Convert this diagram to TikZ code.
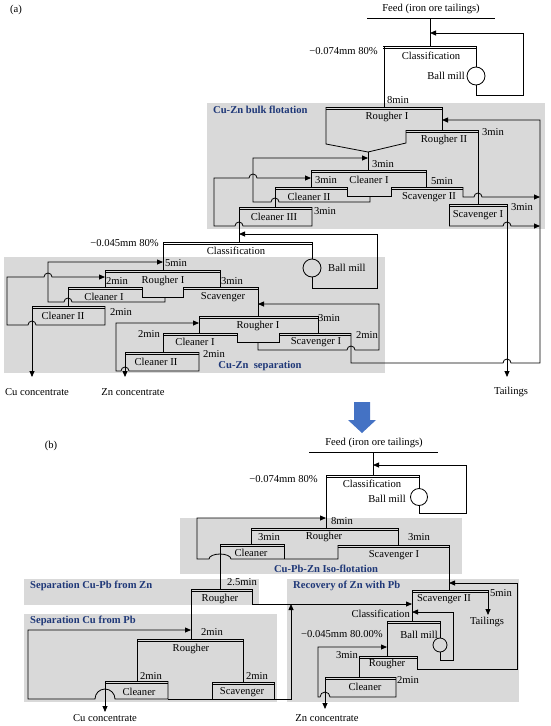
\documentclass[tikz,border=0pt]{standalone}
\usepackage{fontspec}
\setmainfont{Liberation Serif}
\usepackage{xcolor}
\usepackage{tikz}
\usetikzlibrary{arrows.meta}

\definecolor{panelgray}{RGB}{217,217,217}
\definecolor{titleblue}{RGB}{31,56,120}
\definecolor{bigblue}{RGB}{68,114,196}

\begin{document}
\begin{tikzpicture}[
    x=1pt, y=-1pt,
    lbl/.style={inner sep=0pt, font=\fontsize{10.6}{12}\selectfont},
    ttl/.style={inner sep=0pt, font=\fontsize{10.6}{12}\selectfont\bfseries, text=titleblue, anchor=west},
    grp/.style={fill=panelgray, draw=none},
    pipe/.style={line width=0.8pt},
    flow/.style={pipe, -{Triangle[length=6pt,width=5pt]}}
]
\useasboundingbox (0,0) rectangle (550,726);

% grey panels
\fill[grp] (207,103) rectangle (545,229);
\fill[grp] (4,257) rectangle (385,373);
\fill[grp] (180,518) rectangle (462,574);
\fill[grp] (24,579) rectangle (259,605);
\fill[grp] (287,579) rectangle (519,702);
\fill[grp] (24,614) rectangle (277,702);

% cell tops (double line)
\foreach \xa/\xb/\yy in {383/477/46, 326/442/107, 406/478/130, 311/426/170, 275/347/187,
    391/463/187, 239/312/207, 449/507/204, 163/312/242, 105/220/270, 68/142/287, 183/258/287,
    32/105/306, 199/318/316, 163/237/333, 279/351/333, 125/199/352,
    326/419/475, 251/398/528, 220/284/544, 338/449/545, 191/252/589, 412/488/590,
    387/440/621, 137/243/639, 359/417/656, 105/168/681, 212/274/682, 325/396/677}
{
    \draw[line width=1pt] (\xa,\yy) -- (\xb,\yy);
    \draw[line width=0.6pt] (\xa,\yy+2.6) -- (\xb,\yy+2.6);
}

% ---------- (a) ----------
\node[lbl] (tagA) at (16,10) {(a)};
\node[lbl] (feedA) at (431,9) {Feed (iron ore tailings)};
\node[lbl, anchor=east] (sizeA) at (378,51) {−0.074mm 80\%};
\node[lbl] (classA) at (431,56) {Classification};
\node[lbl, anchor=east] (millA) at (465,76) {Ball mill};
\node[lbl] (tA1) at (398,100) {8min};
\node[ttl] (bulk) at (213,110) {Cu-Zn bulk flotation};
\node[lbl] (rghA1) at (387,117) {Rougher I};
\node[lbl] (rghA2) at (444,140) {Rougher II};
\node[lbl] (tA2) at (493,132) {3min};
\node[lbl] (tA3) at (383,164) {3min};
\node[lbl] (tA4) at (326,180) {3min};
\node[lbl] (clnA1) at (369,180) {Cleaner I};
\node[lbl] (tA5) at (442,181) {5min};
\node[lbl] (clnA2) at (309,197) {Cleaner II};
\node[lbl] (scvA2) at (429,197) {Scavenger II};
\node[lbl] (tA6) at (325,211) {3min};
\node[lbl] (clnA3) at (274,217) {Cleaner III};
\node[lbl] (tA7) at (522,207) {3min};
\node[lbl] (scvA1) at (478,215) {Scavenger I};

\node[lbl, anchor=east] (sizeB) at (159,243) {−0.045mm 80\%};
\node[lbl] (classB) at (236,251) {Classification};
\node[lbl, anchor=west] (millB) at (328,268) {Ball mill};
\node[lbl] (tB1) at (176,263) {5min};
\node[lbl] (tB2) at (117,281) {2min};
\node[lbl] (rghB1) at (163,281) {Rougher I};
\node[lbl] (tB3) at (232,281) {3min};
\node[lbl] (clnB1) at (104,297) {Cleaner I};
\node[lbl] (scvB) at (223,297) {Scavenger};
\node[lbl] (tB4) at (121,312) {2min};
\node[lbl] (clnB2) at (63,316) {Cleaner II};
\node[lbl] (tB5) at (329,318) {3min};
\node[lbl] (rghB2) at (258,326) {Rougher I};
\node[lbl] (tB6) at (149,334) {2min};
\node[lbl] (clnB3) at (195,342) {Cleaner I};
\node[lbl] (scvB1) at (316,342) {Scavenger I};
\node[lbl] (tB7) at (367,335) {2min};
\node[lbl] (tB8) at (214,354) {2min};
\node[lbl] (clnB4) at (156,362) {Cleaner II};
\node[ttl, anchor=center] (sep) at (260,366) {Cu-Zn~~separation};
\node[lbl] (cuA) at (37,392) {Cu concentrate};
\node[lbl] (znA) at (133,392) {Zn concentrate};
\node[lbl] (tailA) at (511,392) {Tailings};

% grinding loop (a)
\draw[pipe] (367,18) -- (495,18);
\draw[pipe] (430,18) -- (430,46);
\draw[pipe] (476,76) circle[radius=9];
\draw[pipe] (476,46) -- (476,67);
\draw[flow] (476,85) -- (476,95) -- (523,95) -- (523,33) -- (430,33);
\draw[pipe] (384,46) -- (384,107);

% bulk flotation
\draw[pipe] (326,107) -- (326,144) -- (368,152) -- (406,143) -- (406,130);
\draw[pipe] (442,107) -- (442,130);
\draw[pipe] (478,130) -- (478,204);
\draw[pipe] (368,152) -- (368,170);
\draw[pipe] (311,170) -- (311,187);
\draw[pipe] (426,170) -- (426,187);
\draw[pipe] (275,187) -- (275,207);
\draw[pipe] (347,187) -- (347,196) -- (391,196) -- (391,187);
\draw[pipe] (239,207) -- (239,242);
\draw[pipe] (449,204) -- (449,226);
\draw[flow] (507,204) -- (507,377);
\draw[flow] (370,196) -- (370,202) -- (279,202) arc[start angle=0, end angle=-180, radius=4]
    -- (253,202) -- (253,158) -- (368,158);
\draw[flow] (312,207) -- (312,226) -- (243,226) arc[start angle=0, end angle=-180, radius=4]
    -- (214,226) -- (214,178) -- (249,178) arc[start angle=180, end angle=360, radius=4] -- (311,178);
\draw[flow] (463,187) -- (463,197) -- (474,197) arc[start angle=180, end angle=360, radius=4] -- (540,197);
\draw[flow] (449,226) -- (503,226) arc[start angle=180, end angle=360, radius=4] -- (540,226);

% grinding loop (separation)
\draw[pipe] (312,268) circle[radius=9];
\draw[pipe] (312,242) -- (312,259);
\draw[flow] (312,277) -- (312,288) -- (377,288) -- (377,234) -- (239,234);
\draw[pipe] (163,242) -- (163,270);

% Cu-Zn separation, first bank
\draw[pipe] (105,270) -- (105,287);
\draw[pipe] (220,270) -- (220,287);
\draw[pipe] (68,287) -- (68,306);
\draw[pipe] (142,287) -- (142,297) -- (183,297) -- (183,287);
\draw[pipe] (258,287) -- (258,316);
\draw[flow] (165,297) -- (165,302) -- (72,302) arc[start angle=0, end angle=-180, radius=4]
    -- (48,302) -- (48,262) -- (163,262);
\draw[flow] (105,306) -- (105,325) -- (36,325) arc[start angle=0, end angle=-180, radius=4]
    -- (7,325) -- (7,277) -- (44,277) arc[start angle=180, end angle=360, radius=4] -- (105,277);
\draw[flow] (32,306) -- (32,377);

% Cu-Zn separation, second bank
\draw[pipe] (199,316) -- (199,333);
\draw[pipe] (318,316) -- (318,333);
\draw[pipe] (163,333) -- (163,352);
\draw[pipe] (237,333) -- (237,342) -- (279,342) -- (279,333);
\draw[flow] (258,342) -- (258,350) -- (347,350) arc[start angle=180, end angle=360, radius=4]
    -- (379,350) -- (379,304) -- (258,304);
\draw[flow] (199,352) -- (199,371) -- (129,371) arc[start angle=0, end angle=-180, radius=4]
    -- (116,371) -- (116,323) -- (199,323);
\draw[flow] (125,352) -- (125,377);
\draw[flow] (351,333) -- (351,363) -- (503,363) arc[start angle=180, end angle=360, radius=4]
    -- (540,363) -- (540,120) -- (442,120);

% big arrow
\fill[bigblue] (354,402) -- (370,402) -- (370,420) -- (376,420) -- (362,433) -- (348,420) -- (354,420) -- cycle;

% ---------- (b) ----------
\node[lbl] (tagB) at (51,446) {(b)};
\node[lbl] (feedB) at (374,443) {Feed (iron ore tailings)};
\node[lbl, anchor=east] (sizeC) at (318,479) {−0.074mm 80\%};
\node[lbl] (classC) at (372,484) {Classification};
\node[lbl, anchor=east] (millC) at (406,499) {Ball mill};
\node[lbl] (tC1) at (342,521) {8min};
\node[lbl] (rghC) at (324,537) {Rougher};
\node[lbl] (tC2) at (269,537) {3min};
\node[lbl] (tC3) at (419,537) {3min};
\node[lbl] (clnC) at (251,553) {Cleaner};
\node[lbl] (scvC1) at (394,555) {Scavenger I};
\node[ttl, anchor=center] (iso) at (326,569) {Cu-Pb-Zn Iso-flotation};
\node[ttl] (sepZn) at (30,586) {Separation Cu-Pb from Zn};
\node[ttl] (recZn) at (293,586) {Recovery of Zn with Pb};
\node[lbl] (tD1) at (242,582) {2.5min};
\node[lbl] (rghD) at (220,599) {Rougher};
\node[lbl] (tE1) at (501,593) {5min};
\node[lbl] (scvE2) at (444,599) {Scavenger II};
\node[lbl, anchor=east] (classE) at (410,614) {Classification};
\node[lbl] (tailB) at (487,622) {Tailings};
\node[ttl] (sepPb) at (30,621) {Separation Cu from Pb};
\node[lbl] (tF1) at (212,632) {2min};
\node[lbl] (millE) at (419,635) {Ball mill};
\node[lbl, anchor=east] (sizeE) at (383,634) {−0.045mm 80.00\%};
\node[lbl] (rghF) at (191,649) {Rougher};
\node[lbl] (tE2) at (347,655) {3min};
\node[lbl] (rghE) at (387,664) {Rougher};
\node[lbl] (tF2) at (151,676) {2min};
\node[lbl] (tF3) at (257,676) {2min};
\node[lbl] (tE3) at (408,680) {2min};
\node[lbl] (clnE) at (365,687) {Cleaner};
\node[lbl] (clnF) at (139,692) {Cleaner};
\node[lbl] (scvF) at (242,692) {Scavenger};
\node[lbl] (cuB) at (105,718) {Cu concentrate};
\node[lbl] (znB) at (327,718) {Zn concentrate};

% grinding loop (b)
\draw[pipe] (309,452) -- (438,452);
\draw[pipe] (373,452) -- (373,475);
\draw[pipe] (419,497) circle[radius=8.5];
\draw[pipe] (419,475) -- (419,488.5);
\draw[flow] (419,505.5) -- (419,513) -- (466,513) -- (466,465) -- (373,465);
\draw[pipe] (326,475) -- (326,528);

% iso-flotation
\draw[pipe] (251,528) -- (251,544);
\draw[pipe] (398,528) -- (398,545);
\draw[pipe] (284,544) -- (284,559);
\draw[flow] (338,545) -- (338,559) -- (231,559) arc[start angle=0, end angle=-180, x radius=11, y radius=5]
    -- (197,559) -- (197,518) -- (326,518);
\draw[pipe] (220,544) -- (220,589);
\draw[pipe] (449,545) -- (449,590);

% separation Cu-Pb from Zn
\draw[pipe] (191,589) -- (191,639);
\draw[flow] (252,589) -- (252,604) -- (412,604);
\draw[flow] (168,699) -- (291,699) -- (291,604);

% recovery of Zn with Pb
\draw[pipe] (412,590) -- (412,621);
\draw[flow] (488,590) -- (488,615);
\draw[pipe] (440,645) circle[radius=7];
\draw[pipe] (440,621) -- (440,638);
\draw[flow] (440,652) -- (440,660) -- (453,660) -- (453,612) -- (412,612);
\draw[pipe] (387,621) -- (387,656);
\draw[pipe] (359,656) -- (359,677);
\draw[flow] (417,656) -- (417,669) -- (517,669) -- (517,583) -- (449,583);
\draw[flow] (396,677) -- (396,697) -- (330,697) arc[start angle=0, end angle=-180, radius=5]
    -- (318,697) -- (318,647) -- (387,647);
\draw[flow] (325,677) -- (325,709);

% separation Cu from Pb
\draw[pipe] (137,639) -- (137,681);
\draw[pipe] (243,639) -- (243,682);
\draw[pipe] (212,682) -- (212,699);
\draw[pipe] (274,682) -- (274,699);
\draw[flow] (168,681) -- (168,699) -- (115,699) arc[start angle=0, end angle=-180, radius=10]
    -- (28,699) -- (28,630) -- (191,630);
\draw[flow] (105,681) -- (105,712);
\end{tikzpicture}
\end{document}
